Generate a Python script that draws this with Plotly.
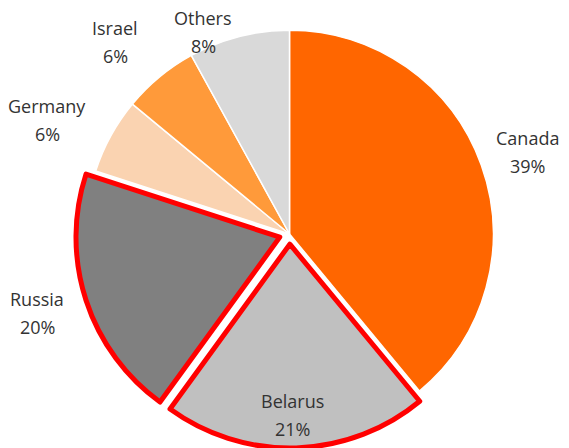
import plotly.graph_objects as go

countries = ["Canada", "Belarus", "Russia", "Germany", "Israel", "Others"]
shares = [39, 21, 20, 6, 6, 8]
colors = ["#FF6600", "#C0C0C0", "#808080", "#FAD3B1", "#FF9A3A", "#D9D9D9"]
highlight = ["Belarus", "Russia"]

W, H = 569, 448
ML, MR, MT, MB = 10, 0, 20, 0

# label block centres in pixels (x, y from top of the page)
label_pos = {
    "Canada": (527, 152),
    "Belarus": (292, 415),
    "Russia": (37, 313),
    "Germany": (47, 120),
    "Israel": (115, 42),
    "Others": (203, 32),
}

line_colors = ["#FF0000" if c in highlight else "#FFFFFF" for c in countries]
line_widths = [5 if c in highlight else 1.5 for c in countries]
pulls = [0.05 if c in highlight else 0 for c in countries]

fig = go.Figure(
    go.Pie(
        labels=countries,
        values=shares,
        sort=False,
        direction="clockwise",
        rotation=0,
        pull=pulls,
        marker=dict(colors=colors, line=dict(color=line_colors, width=line_widths)),
        textinfo="none",
        showlegend=False,
        hoverinfo="label+percent",
    )
)

pw, ph = W - ML - MR, H - MT - MB
font = dict(family="Open Sans", size=18, color="#333333")
for name, val in zip(countries, shares):
    px, py = label_pos[name]
    for text, dy in ((name, -14), (f"{val}%", 14)):
        fig.add_annotation(
            x=(px - ML) / pw, y=1 - (py + dy - MT) / ph,
            xref="paper", yref="paper",
            text=text, showarrow=False, font=font,
            xanchor="center", yanchor="middle",
        )

fig.update_layout(
    width=W,
    height=H,
    margin=dict(l=ML, r=MR, t=MT, b=MB),
    paper_bgcolor="white",
    plot_bgcolor="white",
)

fig.write_html("out.html")
